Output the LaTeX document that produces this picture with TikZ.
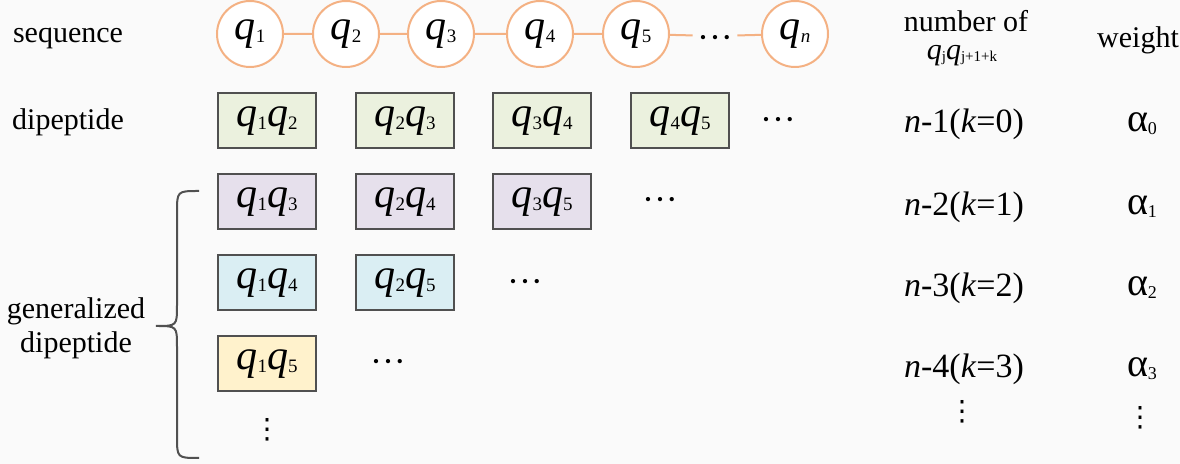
\documentclass[tikz,border=0pt]{standalone}
\usepackage{fontspec}
\setmainfont{Liberation Serif}
\newfontfamily\symfont{DejaVu Sans}
\usetikzlibrary{positioning}

\definecolor{seqorange}{RGB}{244,177,131}
\definecolor{boxline}{RGB}{80,80,80}
\definecolor{dipgreen}{RGB}{235,241,222}
\definecolor{diplilac}{RGB}{230,224,236}
\definecolor{dipblue}{RGB}{218,238,243}
\definecolor{dipyellow}{RGB}{255,242,204}

% q with a small upright index
\newcommand{\qsub}[1]{{\fontsize{21}{21}\selectfont\itshape q}\raisebox{-1.5pt}{\fontsize{9.5}{9.5}\selectfont #1}}
\newcommand{\wsub}[1]{{\fontsize{20}{20}\selectfont α}\raisebox{-1.5pt}{\fontsize{9}{9}\selectfont #1}}

\begin{document}
\begin{tikzpicture}[x=0.5pt,y=-0.5pt,
    seqnode/.style={circle, draw=seqorange, line width=1pt, fill=white, minimum size=33pt, inner sep=0pt},
    seqline/.style={draw=seqorange, line width=1pt},
    pairbox/.style={rectangle, draw=boxline, line width=1pt, minimum width=49pt, minimum height=27.5pt, inner sep=0pt},
    lbl/.style={font=\fontsize{15}{17}\selectfont, align=center},
    cnt/.style={font=\fontsize{17}{17}\selectfont},
    dots/.style={font=\fontsize{18}{18}\selectfont, text height=14pt, text depth=0pt, inner sep=2pt},
    vdot/.style={font=\symfont\fontsize{14}{14}\selectfont, inner sep=1pt}]
  \fill[white!98!black] (0,0) rectangle (1180,464);
  \useasboundingbox (0,0) rectangle (1180,464);

  % row labels
  \node[lbl] (seqlbl) at (68,38) {sequence};
  \node[lbl] (diplbl) at (68,122) {dipeptide};
  \node[lbl] (genlbl) at (76,328) {generalized\\dipeptide};

  % the sequence
  \foreach \i/\x in {1/250,2/346,3/441,4/540,5/636}
    \node[seqnode] (q\i) at (\x,34) {\qsub{\i}};
  \node[seqnode] (qn) at (795,34) {\qsub{\textit{n}}};
  \node[dots] (seqdots) at (715,36) {···};
  \draw[seqline] (q1) -- (q2) -- (q3) -- (q4) -- (q5) -- (seqdots) -- (qn);

  % dipeptides, k=0
  \foreach \a/\b/\x in {1/2/267,2/3/405,3/4/542,4/5/680}
    \node[pairbox, fill=dipgreen] (d\a\b) at (\x,121) {\qsub{\a}\qsub{\b}};
  \node[dots] (dots0) at (778,118) {···};

  % generalized dipeptides, k=1,2,3
  \foreach \a/\b/\x in {1/3/267,2/4/405,3/5/542}
    \node[pairbox, fill=diplilac] (g\a\b) at (\x,202) {\qsub{\a}\qsub{\b}};
  \node[dots] (dots1) at (660,198) {···};
  \foreach \a/\b/\x in {1/4/267,2/5/405}
    \node[pairbox, fill=dipblue] (g\a\b) at (\x,283) {\qsub{\a}\qsub{\b}};
  \node[dots] (dots2) at (525,280) {···};
  \node[pairbox, fill=dipyellow] (g15) at (267,364) {\qsub{1}\qsub{5}};
  \node[dots] (dots3) at (388,360) {···};
  \node[vdot] (vdots) at (267,430) {⋮};

  % brace
  \draw[boxline, line width=1pt] (199,191) .. controls (177,191) .. (177,213) -- (177,305)
    .. controls (177,326) .. (156,326) .. controls (177,326) .. (177,347) -- (177,436)
    .. controls (177,458) .. (199,458);

  % counts and weights
  \node[lbl, inner sep=1pt] (numlbl) at (966,21) {number of};
  \node[inner sep=1pt] (numq) at (962,56) {{\fontsize{15}{15}\selectfont\itshape q}\raisebox{-1pt}{\fontsize{7.5}{7.5}\selectfont j}{\fontsize{15}{15}\selectfont\itshape q}\raisebox{-1pt}{\fontsize{7.5}{7.5}\selectfont j+1+k}};
  \node[lbl] (wlbl) at (1138,40) {weight};
  \foreach \r/\y in {0/124,1/207,2/288,3/369} {
    \pgfmathtruncatemacro{\m}{\r+1}
    \node[cnt] (n\r) at (964,\y) {\textit{n}-\m(\textit{k}=\r)};
    \node (w\r) at (1142,\y) {\wsub{\r}};
  }
  \node[vdot] (nvdots) at (962,412) {⋮};
  \node[vdot] (wvdots) at (1140,418) {⋮};
\end{tikzpicture}
\end{document}
